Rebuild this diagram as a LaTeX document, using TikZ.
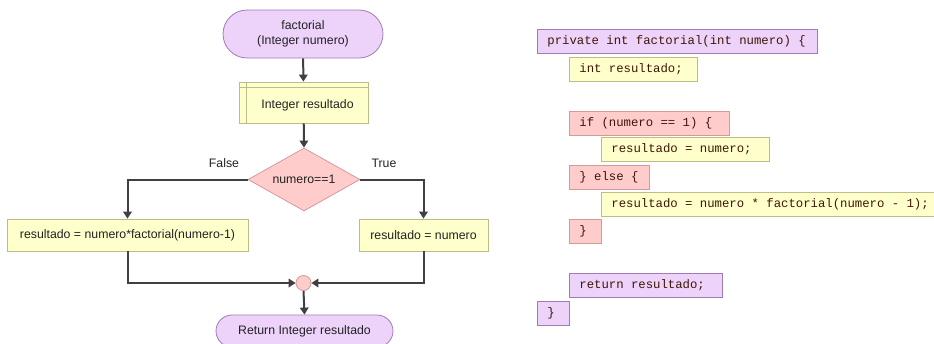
\documentclass[tikz,border=0pt]{standalone}
\usepackage{fontspec}
\setmainfont{Liberation Sans}
\setmonofont{Liberation Mono}
\usetikzlibrary{arrows.meta,shapes.geometric,calc}

\definecolor{termfill}{HTML}{EDD2FA}
\definecolor{termdraw}{HTML}{A27BB5}
\definecolor{procfill}{HTML}{FFFFCC}
\definecolor{procdraw}{HTML}{BDBD8A}
\definecolor{decfill}{HTML}{FFCCCC}
\definecolor{decdraw}{HTML}{D49A9A}
\definecolor{wire}{HTML}{404040}
\definecolor{codetext}{HTML}{3E1606}
\definecolor{labeltext}{HTML}{222222}

% fixed-width, left-aligned content for a code line box
\newcommand{\codeline}[2]{\makebox[#1][l]{#2}}

\tikzset{
  every node/.style={text=labeltext, font=\fontsize{12.3}{14.5}\selectfont},
  terminal/.style={draw=termdraw, fill=termfill, line width=0.8pt, align=center, inner sep=0pt},
  process/.style={draw=procdraw, fill=procfill, line width=0.8pt, inner sep=0pt},
  decision/.style={diamond, draw=decdraw, fill=decfill, line width=0.8pt, aspect=1.78, inner sep=0pt,
                   minimum width=112pt, minimum height=63pt},
  junction/.style={circle, draw=decdraw, fill=decfill, line width=0.8pt, minimum size=15pt, inner sep=0pt},
  flow/.style={draw=wire, line width=2pt, -{Triangle[length=7pt,width=8.5pt]}},
  codebox/.style={anchor=north west, line width=0.8pt, minimum height=24pt, inner xsep=10pt, inner ysep=0pt,
                  text=codetext, font=\ttfamily\fontsize{12.3}{14}\selectfont},
  codeterm/.style={codebox, draw=termdraw, fill=termfill},
  codeproc/.style={codebox, draw=procdraw, fill=procfill},
  codedec/.style={codebox, draw=decdraw, fill=decfill}
}

\begin{document}
\begin{tikzpicture}[x=1pt, y=-1pt]
  \useasboundingbox (0,0) rectangle (934,343);
  \clip (0,0) rectangle (934,343);

  % ---- flowchart ----
  \node[terminal, minimum width=160pt, minimum height=48pt, rounded corners=24pt] (start) at (303,34)
       {factorial\\(Integer numero)};
  \node[process, minimum width=129pt, minimum height=41pt] (decl) at (303.5,102.5) {};
  \node at ($(decl.center)+(4,3)$) {Integer resultado};
  \draw[procdraw, line width=0.8pt] ($(decl.north west)+(8,0)$) -- ($(decl.south west)+(8,0)$)
        ($(decl.north west)+(0,6)$) -- ($(decl.north east)+(0,6)$);

  \node[decision] (dec) at (304,179.5) {numero==1};
  \node (lblF) at (224,163) {False};
  \node (lblT) at (384,163) {True};

  \node[process, minimum width=241pt, minimum height=32pt] (elsebox) at (127.5,235)
       {resultado = numero*factorial(numero-1)};
  \node[process, minimum width=129pt, minimum height=32pt] (thenbox) at (423.5,235)
       {resultado = numero};

  \node[junction] (join) at (303.5,283) {};
  \node[terminal, minimum width=177pt, minimum height=32pt, rounded corners=16pt] (finish) at (304.5,331)
       {Return Integer resultado};

  \draw[flow] (start) -- (decl);
  \draw[flow] (decl) -- (dec.north);
  \draw[flow] (dec.west) -| (elsebox.north);
  \draw[flow] (dec.east) -| (thenbox.north);
  \draw[flow] (elsebox.south) |- (join.west);
  \draw[flow] (thenbox.south) |- (join.east);
  \draw[flow] (join.south) -- (finish.north);

  % ---- equivalent Java code ----
  \node[codeterm] (c1) at (537,29)  {\codeline{260pt}{private int factorial(int numero) \{}};
  \node[codeproc] (c2) at (569,57)  {\codeline{108pt}{int resultado;}};
  \node[codedec]  (c3) at (569,111) {\codeline{140pt}{if (numero == 1) \{}};
  \node[codeproc] (c4) at (601,137) {\codeline{148pt}{resultado = numero;}};
  \node[codedec]  (c5) at (569,165) {\codeline{60pt}{\} else \{}};
  \node[codeproc] (c6) at (601,192) {\codeline{330pt}{resultado = numero * factorial(numero - 1);}};
  \node[codedec]  (c7) at (569,219) {\codeline{12pt}{\}}};
  \node[codeterm] (c8) at (569,273) {\codeline{133pt}{return resultado;}};
  \node[codeterm] (c9) at (537,301) {\codeline{12pt}{\}}};
\end{tikzpicture}
\end{document}
